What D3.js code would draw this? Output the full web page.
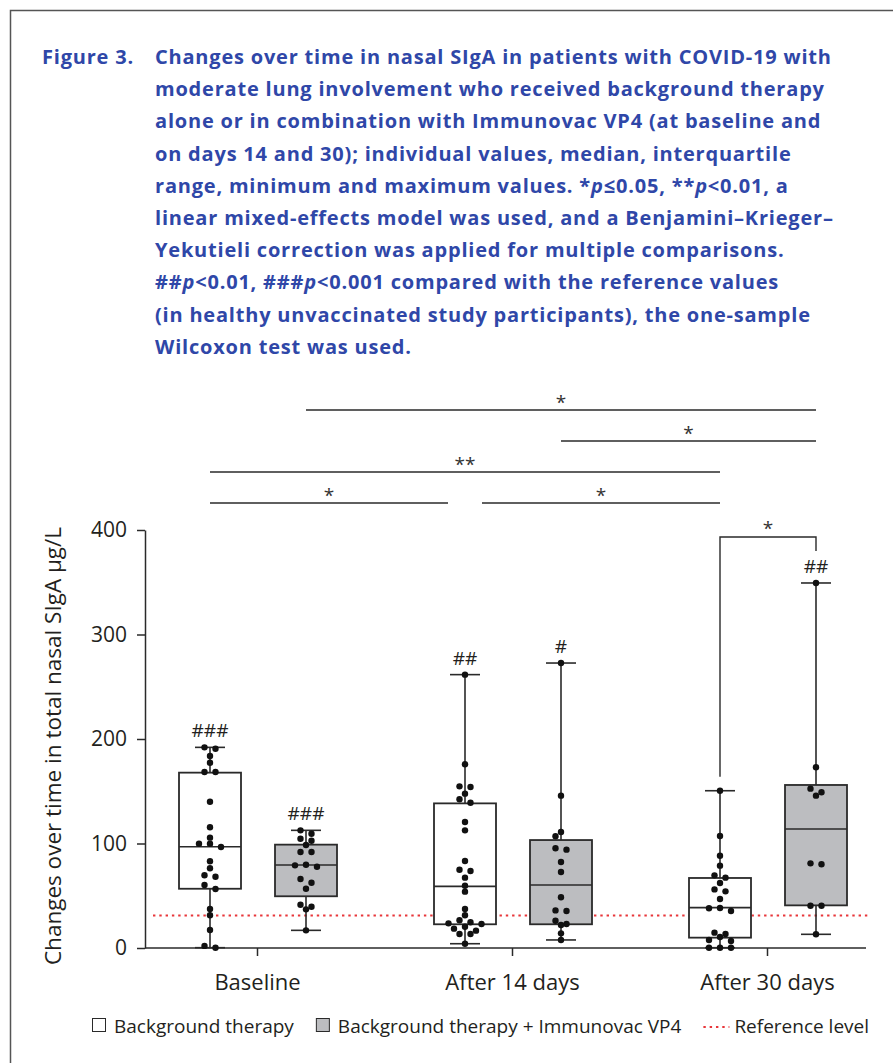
<!DOCTYPE html>
<html>
<head>
<meta charset="utf-8">
<script src="https://cdn.jsdelivr.net/npm/d3@7"></script>
<style>
  body { margin: 0; background: #fff; }
  svg { display: block; font-family: "Open Sans", sans-serif; }
</style>
</head>
<body>
<svg id="chart"></svg>
<script>
// dimensions
var svgWidth = 893;
var svgHeight = 1063;

// plot area edges (pixels)
var plot = { left: 145, right: 866, top: 530, bottom: 948 };

// categories / groups
var categories = ["Baseline", "After 14 days", "After 30 days"];
var groupNames = ["Background therapy", "Background therapy + Immunovac VP4"];

// individual values, µg/L
var bgBaseline = [192, 190.6, 183.7, 177.3, 168.4, 168.4, 140, 115.5, 105.6, 99.8, 99.8, 96.7,
  83, 76.3, 69.6, 68.2, 60.3, 56.5, 37.3, 31.3, 17.2, 2, 0.3];
var bgDay14 = [261.6, 175.8, 154.7, 154, 147.7, 142.3, 139, 120.6, 112.6, 83.3, 74.9, 73.7,
  67.3, 59.6, 53.9, 37.3, 31.3, 26.5, 24.6, 23.6, 23, 20.4, 18.5, 16.6, 13.4, 13.4, 4.1];
var bgDay30 = [150.5, 107.2, 88.3, 78.8, 69.5, 67.3, 62.2, 56.1, 54.2, 46.9, 38.3, 38, 35.4,
  14.7, 13.4, 10.5, 7.7, 6.7, 0.3, 0.3, 0.3];

var vp4Baseline = [112.6, 109.4, 104.6, 102.7, 98.6, 91.9, 91.9, 79.7, 79.1, 77.8, 66, 62.5,
  56.7, 41.4, 39.5, 37, 16.9];
var vp4Day14 = [272.7, 145.8, 111, 106.9, 95.4, 94.1, 82.3, 72.7, 48.5, 36, 35.4, 26.1, 23, 22, 14, 7.7];
var vp4Day30 = [349.3, 172.9, 152.5, 149, 145.8, 81, 80.1, 40.5, 40.5, 13.1];

// box statistics (quartiles, median)
var bgQ1 = [56.7, 22.7, 9.9];
var bgMedian = [96.9, 59.0, 38.6];
var bgQ3 = [167.8, 138.4, 67];
var vp4Q1 = [49.5, 22.7, 40.8];
var vp4Median = [79.4, 60.3, 113.9];
var vp4Q3 = [98.9, 103.3, 156];

// marks vs reference values
var bgHash = ["###", "##", ""];
var vp4Hash = ["###", "#", "##"];

var referenceLevel = 31;
var yTicks = [0, 100, 200, 300, 400];

// comparisons: [category, group, category, group, label]
var comparisons = [
  [0, 0, 1, 0, "*"],
  [1, 0, 2, 0, "*"],
  [0, 0, 2, 0, "**"],
  [1, 1, 2, 1, "*"],
  [0, 1, 2, 1, "*"]
];
var groupComparison = [2, 0, 2, 1, "*"];

var titleLines = [
  "Changes over time in nasal SIgA in patients with COVID-19 with",
  "moderate lung involvement who received background therapy",
  "alone or in combination with Immunovac VP4 (at baseline and",
  "on days 14 and 30); individual values, median, interquartile",
  "range, minimum and maximum values. *{p}≤0.05, **{p}<0.01, a",
  "linear mixed-effects model was used, and a Benjamini–Krieger–",
  "Yekutieli correction was applied for multiple comparisons.",
  "##{p}<0.01, ###{p}<0.001 compared with the reference values",
  "(in healthy unvaccinated study participants), the one-sample",
  "Wilcoxon test was used."
];

var groups = [
  { values: [bgBaseline, bgDay14, bgDay30], q1: bgQ1, med: bgMedian, q3: bgQ3, hash: bgHash, fill: "#ffffff" },
  { values: [vp4Baseline, vp4Day14, vp4Day30], q1: vp4Q1, med: vp4Median, q3: vp4Q3, hash: vp4Hash, fill: "#bcbdc0" }
];

var ink = "#2a2a2a";

var svg = d3.select("#chart")
  .attr("width", svgWidth)
  .attr("height", svgHeight);

// frame
svg.append("rect")
  .attr("x", 10.5).attr("y", 10.5)
  .attr("width", svgWidth + 20).attr("height", svgHeight + 20)
  .attr("fill", "none").attr("stroke", "#555").attr("stroke-width", 1.5);

// caption
var title = svg.append("g")
  .attr("fill", "#2f47a8")
  .attr("font-weight", 700)
  .attr("font-size", 20)
  .attr("letter-spacing", 0.8);
title.append("text").attr("x", 42).attr("y", 64).text("Figure 3.");
titleLines.forEach(function(line, i) {
  var t = title.append("text").attr("x", 155).attr("y", 64 + i * 32.2);
  line.split(/(\{p\})/).forEach(function(part) {
    if (part === "{p}") t.append("tspan").attr("font-style", "italic").text("p");
    else if (part) t.append("tspan").text(part);
  });
});

// scales
var x = d3.scalePoint()
  .domain(categories)
  .range([plot.left + 112, plot.right - 99]);
var offset = d3.scalePoint().domain([0, 1]).range([-47, 49]);
var y = d3.scaleLinear().domain([0, 400]).range([plot.bottom, plot.top]);

var boxW = 62, capW = 30;
function cx(c, g) { return x(categories[c]) + offset(g); }

// axes
var leftAxis = d3.axisLeft(y).tickValues(yTicks).tickSize(8).tickSizeOuter(0).tickPadding(10);
var bottomAxis = d3.axisBottom(x).tickSize(8).tickSizeOuter(0).tickPadding(18);

var gy = svg.append("g")
  .attr("transform", "translate(" + plot.left + ",0)")
  .call(leftAxis);
var gx = svg.append("g")
  .attr("transform", "translate(0," + plot.bottom + ")")
  .call(bottomAxis);
gx.select(".domain").remove();
svg.append("line")
  .attr("x1", plot.left).attr("x2", plot.right)
  .attr("y1", plot.bottom).attr("y2", plot.bottom)
  .attr("stroke", ink).attr("stroke-width", 1.5);

[gx, gy].forEach(function(g) {
  g.selectAll(".domain, .tick line").attr("stroke", ink).attr("stroke-width", 1.5);
  g.selectAll(".tick text").attr("fill", "#231f20").attr("font-size", 21)
    .attr("font-family", "'Open Sans', sans-serif");
});
gx.selectAll(".tick text").attr("font-size", 22);

svg.append("text")
  .attr("transform", "translate(61," + 746 + ") rotate(-90)")
  .attr("text-anchor", "middle")
  .attr("font-size", 22.5)
  .attr("fill", "#231f20")
  .text("Changes over time in total nasal SIgA µg/L");

// reference level
svg.append("line")
  .attr("x1", plot.left + 8).attr("x2", plot.right + 4)
  .attr("y1", y(referenceLevel)).attr("y2", y(referenceLevel))
  .attr("stroke", "#e8363a").attr("stroke-width", 2)
  .attr("stroke-dasharray", "2.4,3.9");

// beeswarm-ish layout: rows of close values spread on an 11px grid
function swarm(values, centre) {
  var pts = values.map(function(v) { return { v: v, y: y(v), dx: 0 }; })
    .sort(function(a, b) { return a.y - b.y; });
  var placed = [];
  var i = 0;
  while (i < pts.length) {
    var row = [pts[i]];
    var j = i + 1;
    while (j < pts.length && pts[j].y - pts[i].y <= 4) { row.push(pts[j]); j++; }
    var best = null;
    var grids = row.length % 2 ? [0, 5.5] : [5.5, 0];
    grids.forEach(function(start) {
      var slots = [];
      for (var k = 0; k < 6; k++) {
        var s = start + 11 * k;
        if (s === 0) slots.push(0);
        else slots.push(-s, s);
      }
      var taken = [], cost = 0, ok = true;
      row.forEach(function(p) {
        var slot = slots.find(function(s) {
          if (taken.some(function(t) { return t.dx === s; })) return false;
          return !placed.concat(taken).some(function(q) {
            return Math.hypot(q.dx - s, q.y - p.y) < 5.5;
          });
        });
        if (slot === undefined) { ok = false; return; }
        taken.push({ dx: slot, y: p.y });
        cost += Math.abs(slot);
      });
      if (ok && (best === null || cost < best.cost)) best = { cost: cost, taken: taken };
    });
    row.forEach(function(p, k) {
      p.dx = best.taken[k].dx;
      placed.push(best.taken[k]);
    });
    i = j;
  }
  pts.forEach(function(p) { p.x = centre + p.dx; });
  return pts;
}

// boxes, whiskers, points
groups.forEach(function(grp, g) {
  categories.forEach(function(cat, c) {
    var xc = cx(c, g);
    var vals = grp.values[c];
    var ext = d3.extent(vals);
    var box = svg.append("g").attr("stroke", ink);

    box.append("line")
      .attr("x1", xc).attr("x2", xc)
      .attr("y1", y(ext[1])).attr("y2", y(ext[0]))
      .attr("stroke-width", 1.6);
    box.selectAll(".cap")
      .data(ext)
      .enter().append("line")
      .attr("class", "cap")
      .attr("x1", xc - capW / 2).attr("x2", xc + capW / 2)
      .attr("y1", function(d) { return y(d); }).attr("y2", function(d) { return y(d); })
      .attr("stroke-width", 1.6);
    box.append("rect")
      .attr("x", xc - boxW / 2).attr("width", boxW)
      .attr("y", y(grp.q3[c]))
      .attr("height", y(grp.q1[c]) - y(grp.q3[c]))
      .attr("fill", grp.fill)
      .attr("stroke-width", 1.8);
    box.append("line")
      .attr("x1", xc - boxW / 2).attr("x2", xc + boxW / 2)
      .attr("y1", y(grp.med[c])).attr("y2", y(grp.med[c]))
      .attr("stroke-width", 1.6);

    svg.append("g").selectAll("circle")
      .data(swarm(vals, xc))
      .enter().append("circle")
      .attr("cx", function(d) { return d.x; })
      .attr("cy", function(d) { return d.y; })
      .attr("r", 3.2)
      .attr("fill", "#111");

    if (grp.hash[c]) {
      svg.append("text")
        .attr("x", xc).attr("y", y(ext[1]) - 10)
        .attr("text-anchor", "middle")
        .attr("font-size", 19)
        .attr("fill", "#231f20")
        .text(grp.hash[c]);
    }
  });
});

function maxOf(c, g) { return d3.max(groups[g].values[c]); }

// comparison lines above the plot
var tierOf = [0, 0, 1, 2, 3];
var sig = svg.append("g");
comparisons.forEach(function(d, i) {
  var x1 = cx(d[0], d[1]), x2 = cx(d[2], d[3]);
  // lines in the same tier that share an end leave a gap there
  comparisons.forEach(function(e, k) {
    if (k === i || tierOf[k] !== tierOf[i]) return;
    if (e[0] === d[2] && e[1] === d[3]) x2 -= 17;
    if (e[2] === d[0] && e[3] === d[1]) x1 += 17;
  });
  var ly = y(400) - 27 - 31 * tierOf[i];
  sig.append("line")
    .attr("x1", x1).attr("x2", x2).attr("y1", ly).attr("y2", ly)
    .attr("stroke", ink).attr("stroke-width", 1.6);
  sig.append("text")
    .attr("x", (x1 + x2) / 2).attr("y", ly - 1)
    .attr("text-anchor", "middle")
    .attr("font-size", 19)
    .attr("fill", "#333")
    .text(d[4]);
});

// bracket between groups after 30 days
(function() {
  var d = groupComparison;
  var x1 = cx(d[0], d[1]), x2 = cx(d[2], d[3]);
  var by = y(400) + 7;
  var end1 = y(maxOf(d[0], d[1])) - (groups[d[1]].hash[d[0]] ? 32 : 14);
  var end2 = y(maxOf(d[2], d[3])) - (groups[d[3]].hash[d[2]] ? 32 : 14);
  sig.append("path")
    .attr("d", "M" + x1 + "," + end1 + "V" + by + "H" + x2 + "V" + end2)
    .attr("fill", "none").attr("stroke", ink).attr("stroke-width", 1.4);
  sig.append("text")
    .attr("x", (x1 + x2) / 2).attr("y", by - 2)
    .attr("text-anchor", "middle")
    .attr("font-size", 19)
    .attr("fill", "#333")
    .text(d[4]);
})();

// legend
var legend = svg.append("g").attr("font-size", 19).attr("fill", "#231f20");
var lx = 92, ly = 1026;
groups.forEach(function(grp, g) {
  legend.append("rect")
    .attr("x", lx + 0.5).attr("y", ly - 7.5)
    .attr("width", 13).attr("height", 13)
    .attr("fill", grp.fill).attr("stroke", ink).attr("stroke-width", 1);
  var t = legend.append("text").attr("x", lx + 22).attr("y", ly + 7).text(groupNames[g]);
  lx += 22 + t.node().getComputedTextLength() + 22;
});
legend.append("line")
  .attr("x1", lx).attr("x2", lx + 26)
  .attr("y1", ly + 1).attr("y2", ly + 1)
  .attr("stroke", "#e8363a").attr("stroke-width", 2)
  .attr("stroke-dasharray", "2.4,3.9");
legend.append("text").attr("x", lx + 31).attr("y", ly + 7).text("Reference level");
</script>
</body>
</html>
